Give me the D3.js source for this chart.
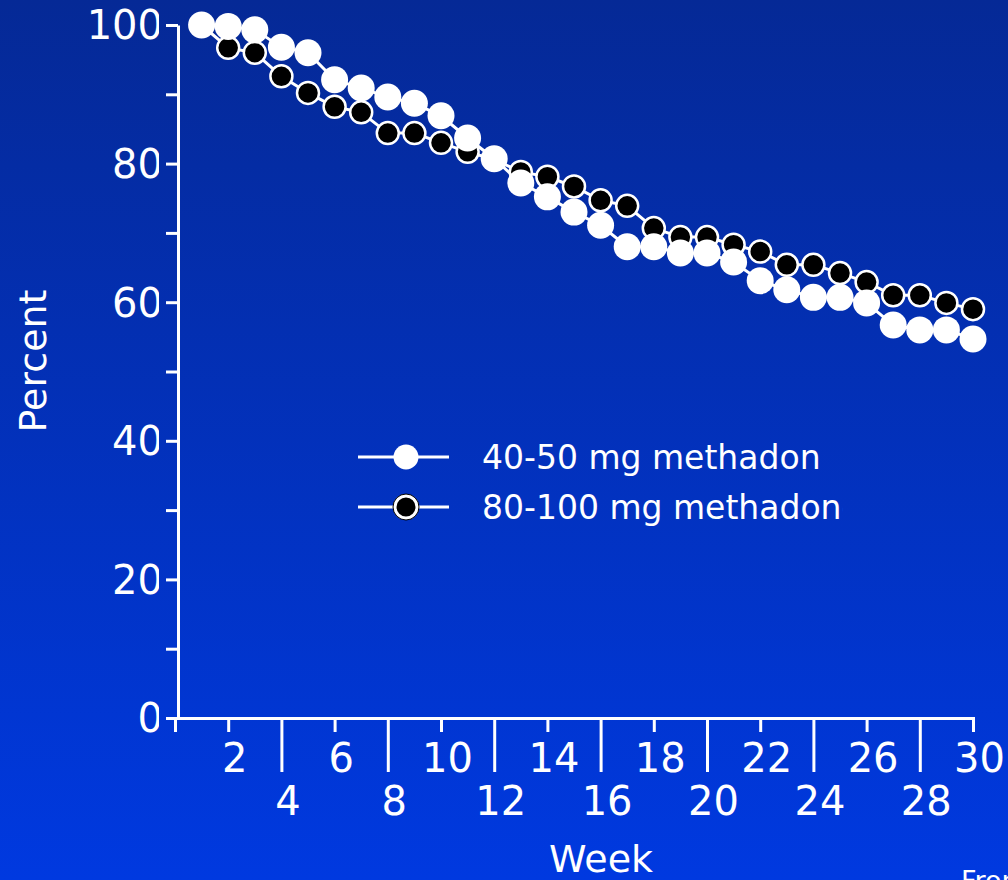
<!DOCTYPE html>
<html>
<head>
<meta charset="utf-8">
<script src="https://cdn.jsdelivr.net/npm/d3@7"></script>
<style>
  html, body { margin: 0; padding: 0; background: #0430b8; }
  svg { display: block; }
  text { font-family: "DejaVu Sans", sans-serif; fill: #fff; }
</style>
</head>
<body>
<svg id="chart" width="1008" height="880"></svg>
<script>
const weeks = d3.range(1, 31);
const low = [100, 99.8, 99.3, 96.8, 96.0, 92.1, 90.9, 89.6, 88.7, 86.9,
             83.7, 80.7, 77.2, 75.2, 73.0, 71.1, 68.0, 68.0, 67.1, 67.1,
             65.8, 63.1, 61.8, 60.7, 60.7, 59.9, 56.7, 56.0, 56.0, 54.7];
const high = [100, 96.7, 96.0, 92.6, 90.2, 88.2, 87.4, 84.4, 84.4, 83.0,
              81.7, 80.6, 78.8, 78.1, 76.7, 74.7, 73.9, 70.7, 69.4, 69.4,
              68.3, 67.3, 65.4, 65.4, 64.2, 62.9, 61.0, 61.0, 59.9, 59.0];
const seriesNames = ["40-50 mg methadone", "80-100 mg methadone"];
const xTicks = d3.range(2, 31, 2);
const yTicks = d3.range(0, 101, 10);
const yLabelTicks = [0, 20, 40, 60, 80, 100];

const svg = d3.select("#chart");
const defs = svg.append("defs");
const grad = defs.append("linearGradient").attr("id", "bg")
  .attr("x1", 0).attr("y1", 0).attr("x2", 0).attr("y2", 1);
grad.append("stop").attr("offset", "0%").attr("stop-color", "rgb(5,41,150)");
grad.append("stop").attr("offset", "100%").attr("stop-color", "rgb(0,57,224)");
svg.append("rect").attr("width", 1008).attr("height", 880).attr("fill", "url(#bg)");

defs.append("clipPath").attr("id", "yclip").append("rect")
  .attr("x", 0).attr("y", 0).attr("width", 159).attr("height", 880);
defs.append("clipPath").attr("id", "lclip0").append("rect")
  .attr("x", 0).attr("y", 0).attr("width", 819).attr("height", 880);
defs.append("clipPath").attr("id", "lclip1").append("rect")
  .attr("x", 0).attr("y", 0).attr("width", 843).attr("height", 880);

const x = d3.scaleLinear().domain([0, 30]).range([175, 973]);
const y = d3.scaleLinear().domain([0, 100]).range([718, 25]);
const axisX0 = 178;

// Y axis
const yAxis = svg.append("g").attr("transform", `translate(${axisX0},0)`)
  .call(d3.axisLeft(y).tickValues(yTicks).tickSize(12).tickSizeOuter(0)
    .tickFormat(d => yLabelTicks.includes(d) ? d : ""));
yAxis.select(".domain").attr("stroke", "#fff").attr("stroke-width", 3);
yAxis.selectAll(".tick line").attr("stroke", "#fff").attr("stroke-width", 3);
// labels re-drawn in a clipped group (reference shows them cut at the right)
const yLabelsGroup = svg.append("g").attr("clip-path", "url(#yclip)");
yAxis.selectAll(".tick").each(function(d) {
  if (yLabelTicks.includes(d)) {
    yLabelsGroup.append("text")
      .attr("x", 163).attr("y", y(d)).attr("dy", "0.36em")
      .attr("text-anchor", "end").attr("font-size", 40).text(d);
  }
  d3.select(this).select("text").remove();
});

// X axis
const xAxis = svg.append("g").attr("transform", `translate(0,718)`)
  .call(d3.axisBottom(x).tickValues(xTicks).tickSizeOuter(0).tickSize(14));
xAxis.select(".domain").attr("stroke", "#fff").attr("stroke-width", 3);
xAxis.selectAll(".tick line").attr("stroke", "#fff").attr("stroke-width", 3)
  .attr("y2", d => (d % 4 === 0) ? 54 : 14);
xAxis.selectAll(".tick text").attr("fill", "#fff").attr("font-size", 40)
  .attr("font-family", "DejaVu Sans, sans-serif")
  .attr("x", 6).attr("dy", null)
  .attr("y", d => (d % 4 === 0) ? 97 : 54);

// Axis titles
svg.append("text").attr("transform", "translate(46,361) rotate(-90)")
  .attr("text-anchor", "middle").attr("font-size", 38).text("Percent");
svg.append("text").attr("x", 601).attr("y", 872)
  .attr("text-anchor", "middle").attr("font-size", 38).text("Week");
svg.append("text").attr("x", 961).attr("y", 890)
  .attr("font-size", 27).text("From");

// Lines & points
const line = d3.line().x((d, i) => x(weeks[i])).y(d => y(d));
svg.append("path").datum(high).attr("d", line)
  .attr("fill", "none").attr("stroke", "#fff").attr("stroke-width", 3);
svg.append("path").datum(low).attr("d", line)
  .attr("fill", "none").attr("stroke", "#fff").attr("stroke-width", 3);

svg.append("g").selectAll("circle").data(high).join("circle")
  .attr("cx", (d, i) => x(weeks[i])).attr("cy", d => y(d))
  .attr("r", 11).attr("fill", "#000").attr("stroke", "#fff").attr("stroke-width", 2.5);
svg.append("g").selectAll("circle").data(low).join("circle")
  .attr("cx", (d, i) => x(weeks[i])).attr("cy", d => y(d))
  .attr("r", 13.5).attr("fill", "#fff");

// Legend
const legendY = [457, 507];
seriesNames.forEach((name, i) => {
  const g = svg.append("g");
  g.append("line").attr("x1", 358).attr("x2", 449)
    .attr("y1", legendY[i]).attr("y2", legendY[i])
    .attr("stroke", "#fff").attr("stroke-width", 3);
  if (i === 0) {
    g.append("circle").attr("cx", 406).attr("cy", legendY[i]).attr("r", 12.5).attr("fill", "#fff");
  } else {
    g.append("circle").attr("cx", 406).attr("cy", legendY[i]).attr("r", 13)
      .attr("fill", "#fff").attr("stroke", "#000").attr("stroke-width", 1);
    g.append("circle").attr("cx", 406).attr("cy", legendY[i]).attr("r", 10.5)
      .attr("fill", "#000").attr("stroke", "#fff").attr("stroke-width", 2);
  }
  svg.append("g").attr("clip-path", `url(#lclip${i})`)
    .append("text").attr("x", 482).attr("y", legendY[i] + 12)
    .attr("font-size", 33).text(name);
});
</script>
</body>
</html>
